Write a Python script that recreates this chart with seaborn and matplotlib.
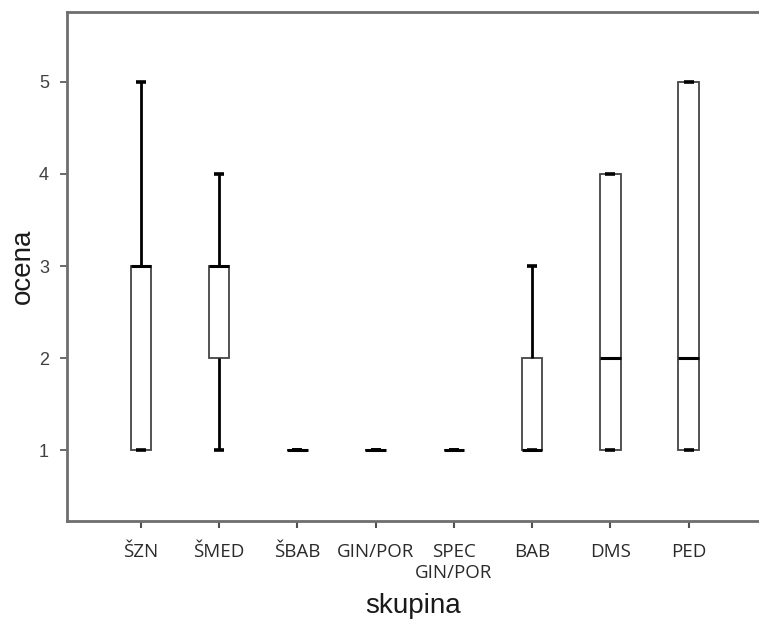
import numpy as np
import pandas as pd
import matplotlib
matplotlib.use("Agg")
import matplotlib.pyplot as plt
import seaborn as sns

# Category labels (x axis)
categories = ["ŠZN", "ŠMED", "ŠBAB", "GIN/POR", "SPEC\nGIN/POR", "BAB", "DMS", "PED"]

# Ratings (ocena) per group, chosen to reproduce the box statistics
szn = [1, 1, 1, 3, 3, 3, 3, 3, 5]
smed = [1, 2, 2, 3, 3, 3, 3, 3, 4]
sbab = [1, 1, 1, 1, 1]
ginpor = [1, 1, 1, 1, 1]
spec_ginpor = [1, 1, 1, 1, 1]
bab = [1, 1, 1, 1, 1, 2, 2, 2, 3]
dms = [1, 1, 1, 2, 2, 4, 4, 4, 4]
ped = [1, 1, 1, 2, 2, 5, 5, 5, 5]

y_ticks = [1, 2, 3, 4, 5]
x_label = "skupina"
y_label = "ocena"

groups = [szn, smed, sbab, ginpor, spec_ginpor, bab, dms, ped]
rows = []
for cat, vals in zip(categories, groups):
    for v in vals:
        rows.append({"skupina": cat, "ocena": v})
df = pd.DataFrame(rows)

sns.set_style("white")
fig = plt.figure(figsize=(7.59, 6.25), dpi=100)
ax = fig.add_axes([67 / 759, 104 / 625, (759 - 67) / 759, (521 - 12) / 625])

sns.boxplot(
    data=df, x="skupina", y="ocena", order=categories, ax=ax,
    width=0.26, whis=(0, 100), color="white", linecolor="#3a3a3a",
    fill=True, showfliers=False,
    boxprops=dict(facecolor="white", edgecolor="#444444", linewidth=1.3),
    medianprops=dict(color="black", linewidth=2.2, solid_capstyle="butt"),
    whiskerprops=dict(color="black", linewidth=2.0),
    capprops=dict(color="black", linewidth=2.6, solid_capstyle="butt"),
)

ax.set_xlim(-0.945, 7.9)
ax.set_ylim(0.23, 5.76)
ax.set_yticks(y_ticks)
ax.set_yticklabels([str(t) for t in y_ticks], fontfamily="Liberation Sans",
                   fontsize=13, color="#404040")
ax.set_xticks(range(len(categories)))
ax.set_xticklabels(categories, fontfamily="Open Sans", fontsize=13.5,
                   color="#2a2a2a", linespacing=1.2)

ax.tick_params(axis="x", bottom=True, length=5, width=1.5, color="#505050", pad=11)
ax.tick_params(axis="y", left=True, length=5, width=1.2, color="#505050", pad=8)

for side in ["left", "top", "bottom"]:
    ax.spines[side].set_visible(True)
    ax.spines[side].set_color("#6e6e6e")
    ax.spines[side].set_linewidth(2.0)
ax.spines["right"].set_visible(False)

ax.set_xlabel(x_label, fontfamily="Liberation Sans", fontsize=20, color="#1a1a1a", labelpad=8)
ax.set_ylabel(y_label, fontfamily="Liberation Sans", fontsize=20, color="#1a1a1a", labelpad=2)

fig.savefig("out.png", dpi=100)
